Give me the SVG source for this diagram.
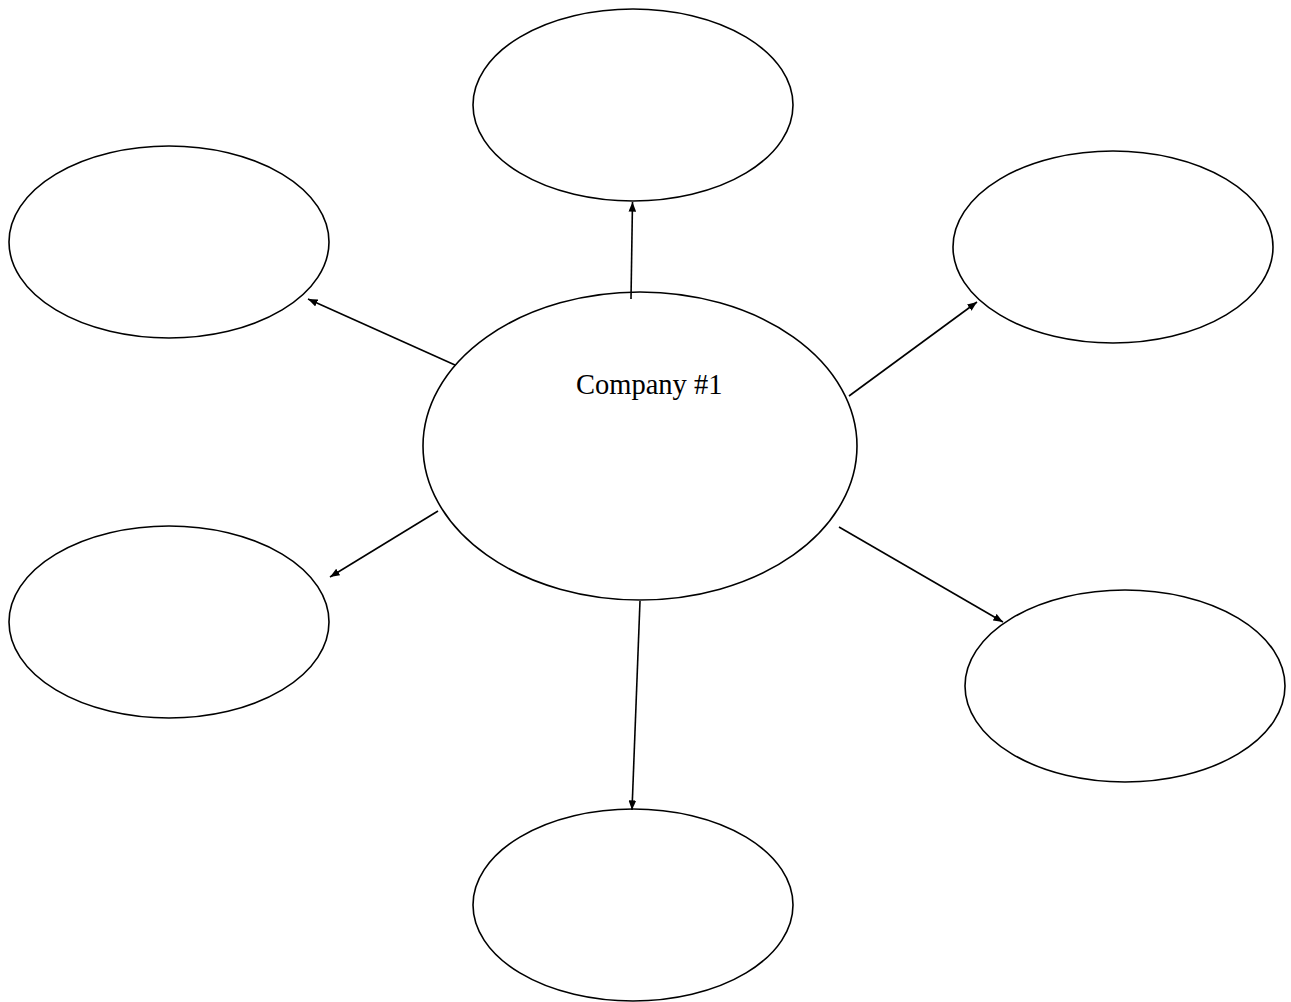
<svg xmlns="http://www.w3.org/2000/svg" width="1291" height="1002" viewBox="0 0 1291 1002">
<style>
.n{fill:#fff;stroke:#000;stroke-width:1.6}
.c{stroke:#000;stroke-width:1.6;fill:none;marker-end:url(#ah)}
.t{font-family:"Liberation Serif","Times New Roman",serif;font-size:28.5px;fill:#000}
</style>
<defs>
<marker id="ah" viewBox="0 0 10 8" refX="10" refY="4" markerWidth="6" markerHeight="4.8" markerUnits="strokeWidth" orient="auto">
<path d="M0,0 L10,4 L0,8 z" fill="#000"/>
</marker>
</defs>
<rect width="1291" height="1002" fill="#fff"/>
<g id="node-top"><ellipse class="n" cx="633" cy="105" rx="160" ry="96"/></g>
<g id="node-top-left"><ellipse class="n" cx="169" cy="242" rx="160" ry="96"/></g>
<g id="node-top-right"><ellipse class="n" cx="1113" cy="247" rx="160" ry="96"/></g>
<g id="node-bottom-left"><ellipse class="n" cx="169" cy="622" rx="160" ry="96"/></g>
<g id="node-bottom-right"><ellipse class="n" cx="1125" cy="686" rx="160" ry="96"/></g>
<g id="node-bottom"><ellipse class="n" cx="633" cy="905" rx="160" ry="96"/></g>
<g id="node-center"><ellipse class="n" cx="640" cy="446" rx="217" ry="154"/>
<text class="t" x="576" y="394">Company #1</text></g>
<g id="connectors">
<line class="c" x1="631" y1="299" x2="632.5" y2="202"/>
<line class="c" x1="455" y1="365" x2="308" y2="299"/>
<line class="c" x1="849" y1="396" x2="977" y2="302"/>
<line class="c" x1="438" y1="511" x2="330" y2="577"/>
<line class="c" x1="839" y1="527" x2="1003" y2="622"/>
<line class="c" x1="640" y1="601" x2="632" y2="810"/>
</g>
</svg>
